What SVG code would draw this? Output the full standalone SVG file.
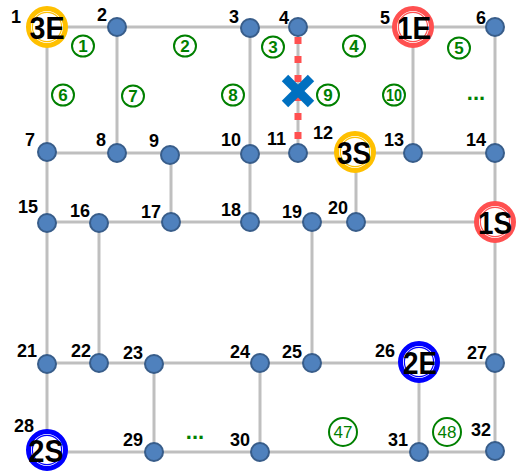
<svg xmlns="http://www.w3.org/2000/svg" width="518" height="471" viewBox="0 0 518 471">
<style>
.e{stroke:#BFBFBF;stroke-width:3;fill:none}
.cut{stroke:#FF5050;stroke-width:7;stroke-dasharray:7 12;fill:none}
.x{stroke:#0070C0;stroke-width:9;fill:none}
.n{fill:#4F81BD;stroke:#385D8A;stroke-width:2}
.l{font-family:"Liberation Sans",Arial,sans-serif;font-weight:bold;font-size:18px;fill:#000;text-anchor:end}
.bo{fill:#fff;stroke-width:5}
.bi{fill:none;stroke-width:1.2}
.bt{font-family:"Liberation Sans",Arial,sans-serif;font-weight:bold;font-size:32px;fill:#000;text-anchor:middle}
.y{stroke:#FFC000}.r{stroke:#FF5050}.b{stroke:#0000FF}
.g{fill:none;stroke:#008000;stroke-width:2}
.gt{font-family:"Liberation Sans",Arial,sans-serif;font-weight:bold;font-size:17px;fill:#008000;text-anchor:middle}
.gt2{font-family:"Liberation Sans",Arial,sans-serif;font-size:17px;fill:#008000;text-anchor:middle}
.dots{font-family:"Liberation Sans",Arial,sans-serif;font-weight:bold;font-size:22px;fill:#008000;text-anchor:middle}
</style>
<g id="connectors">
<line class="e" x1="47" y1="27" x2="495" y2="27"/>
<line class="e" x1="47" y1="153" x2="495" y2="153"/>
<line class="e" x1="47" y1="222" x2="495" y2="222"/>
<line class="e" x1="47" y1="363" x2="495" y2="363"/>
<line class="e" x1="47" y1="452" x2="495" y2="452"/>
<line class="e" x1="47" y1="27" x2="47" y2="452"/>
<line class="e" x1="117" y1="27" x2="117" y2="153"/>
<line class="e" x1="250" y1="27" x2="250" y2="222"/>
<line class="e" x1="298" y1="27" x2="298" y2="153"/>
<line class="e" x1="413" y1="27" x2="413" y2="153"/>
<line class="e" x1="495" y1="27" x2="495" y2="452"/>
<line class="e" x1="171" y1="153" x2="171" y2="222"/>
<line class="e" x1="356" y1="153" x2="356" y2="222"/>
<line class="e" x1="99" y1="222" x2="99" y2="363"/>
<line class="e" x1="312" y1="222" x2="312" y2="363"/>
<line class="e" x1="154" y1="363" x2="154" y2="452"/>
<line class="e" x1="260" y1="363" x2="260" y2="452"/>
<line class="e" x1="419" y1="363" x2="419" y2="452"/>
<line class="cut" x1="298" y1="37" x2="298" y2="143"/>
<line class="x" x1="285" y1="78" x2="311" y2="104"/>
<line class="x" x1="311" y1="78" x2="285" y2="104"/>
</g>
<g id="regions">
<ellipse class="g" cx="83" cy="46" rx="11" ry="10.5"/><text class="gt" x="83" y="52">1</text>
<ellipse class="g" cx="185" cy="46" rx="11" ry="10.5"/><text class="gt" x="185" y="52">2</text>
<ellipse class="g" cx="273" cy="47" rx="11" ry="10.5"/><text class="gt" x="273" y="53">3</text>
<ellipse class="g" cx="354" cy="46" rx="11" ry="10.5"/><text class="gt" x="354" y="52">4</text>
<ellipse class="g" cx="459" cy="48" rx="11" ry="10.5"/><text class="gt" x="459" y="54">5</text>
<ellipse class="g" cx="63" cy="95" rx="11" ry="10.5"/><text class="gt" x="63" y="101">6</text>
<ellipse class="g" cx="133" cy="96" rx="11" ry="10.5"/><text class="gt" x="133" y="102">7</text>
<ellipse class="g" cx="233" cy="95" rx="11" ry="10.5"/><text class="gt" x="233" y="101">8</text>
<ellipse class="g" cx="328" cy="95" rx="11" ry="10.5"/><text class="gt" x="328" y="101">9</text>
<ellipse class="g" cx="394" cy="95" rx="11" ry="10.5"/><text class="gt" x="394" y="101" textLength="16" lengthAdjust="spacingAndGlyphs">10</text>
<text class="dots" x="476" y="100">...</text>
<text class="dots" x="195" y="439">...</text>
<circle class="g" cx="343" cy="432" r="14"/><text class="gt2" x="343" y="438">47</text>
<circle class="g" cx="447" cy="432" r="14"/><text class="gt2" x="447" y="438">48</text>
</g>
<g id="n1"><circle class="bo y" cx="47" cy="27" r="18.5"/><circle class="bi y" cx="47" cy="27" r="14.6"/><text class="l" x="21" y="23">1</text><text class="bt" x="47" y="39" textLength="35" lengthAdjust="spacingAndGlyphs">3E</text></g>
<g id="n2"><circle class="n" cx="117" cy="27" r="9"/><text class="l" x="107" y="21">2</text></g>
<g id="n3"><circle class="n" cx="250" cy="28" r="9"/><text class="l" x="239" y="23">3</text></g>
<g id="n4"><circle class="n" cx="298" cy="27" r="9"/><text class="l" x="289" y="24">4</text></g>
<g id="n5"><circle class="bo r" cx="413" cy="27" r="18.5"/><circle class="bi r" cx="413" cy="27" r="14.6"/><text class="l" x="390" y="24">5</text><text class="bt" x="414" y="39" textLength="34" lengthAdjust="spacingAndGlyphs">1E</text></g>
<g id="n6"><circle class="n" cx="495" cy="27" r="9"/><text class="l" x="486" y="24">6</text></g>
<g id="n7"><circle class="n" cx="47" cy="152" r="9"/><text class="l" x="35" y="146">7</text></g>
<g id="n8"><circle class="n" cx="117" cy="153" r="9"/><text class="l" x="106" y="146">8</text></g>
<g id="n9"><circle class="n" cx="170" cy="155" r="9"/><text class="l" x="159" y="147">9</text></g>
<g id="n10"><circle class="n" cx="250" cy="154" r="9"/><text class="l" x="241" y="146">10</text></g>
<g id="n11"><circle class="n" cx="298" cy="153" r="9"/><text class="l" x="286" y="145">11</text></g>
<g id="n12"><circle class="bo y" cx="355" cy="152" r="18.5"/><circle class="bi y" cx="355" cy="152" r="14.6"/><text class="l" x="333" y="139">12</text><text class="bt" x="354" y="164" textLength="34" lengthAdjust="spacingAndGlyphs">3S</text></g>
<g id="n13"><circle class="n" cx="413" cy="153" r="9"/><text class="l" x="404" y="146">13</text></g>
<g id="n14"><circle class="n" cx="495" cy="153" r="9"/><text class="l" x="486" y="146">14</text></g>
<g id="n15"><circle class="n" cx="47" cy="223" r="9"/><text class="l" x="38" y="213">15</text></g>
<g id="n16"><circle class="n" cx="99" cy="223" r="9"/><text class="l" x="90" y="217">16</text></g>
<g id="n17"><circle class="n" cx="171" cy="222" r="9"/><text class="l" x="161" y="218">17</text></g>
<g id="n18"><circle class="n" cx="250" cy="222" r="9"/><text class="l" x="241" y="216">18</text></g>
<g id="n19"><circle class="n" cx="312" cy="222" r="9"/><text class="l" x="302" y="218">19</text></g>
<g id="n20"><circle class="n" cx="356" cy="222" r="9"/><text class="l" x="348" y="214">20</text></g>
<g id="n1S"><circle class="bo r" cx="495" cy="222" r="18.5"/><circle class="bi r" cx="495" cy="222" r="14.6"/><text class="bt" x="495" y="234" textLength="34" lengthAdjust="spacingAndGlyphs">1S</text></g>
<g id="n21"><circle class="n" cx="47" cy="364" r="9"/><text class="l" x="37" y="357">21</text></g>
<g id="n22"><circle class="n" cx="99" cy="363" r="9"/><text class="l" x="91" y="357">22</text></g>
<g id="n23"><circle class="n" cx="154" cy="364" r="9"/><text class="l" x="143" y="359">23</text></g>
<g id="n24"><circle class="n" cx="260" cy="363" r="9"/><text class="l" x="250" y="358">24</text></g>
<g id="n25"><circle class="n" cx="312" cy="363" r="9"/><text class="l" x="302" y="358">25</text></g>
<g id="n26"><circle class="bo b" cx="419" cy="362" r="18.5"/><circle class="bi b" cx="419" cy="362" r="14.6"/><text class="l" x="395" y="357">26</text><text class="bt" x="420" y="374" textLength="34" lengthAdjust="spacingAndGlyphs">2E</text></g>
<g id="n27"><circle class="n" cx="495" cy="363" r="9"/><text class="l" x="487" y="359">27</text></g>
<g id="n28"><circle class="bo b" cx="47" cy="450" r="18.5"/><circle class="bi b" cx="47" cy="450" r="14.6"/><text class="l" x="34" y="432">28</text><text class="bt" x="46" y="462" textLength="35" lengthAdjust="spacingAndGlyphs">2S</text></g>
<g id="n29"><circle class="n" cx="154" cy="452" r="9"/><text class="l" x="143" y="446">29</text></g>
<g id="n30"><circle class="n" cx="260" cy="452" r="9"/><text class="l" x="250" y="446">30</text></g>
<g id="n31"><circle class="n" cx="419" cy="452" r="9"/><text class="l" x="408" y="446">31</text></g>
<g id="n32"><circle class="n" cx="495" cy="451" r="9"/><text class="l" x="491" y="436">32</text></g>
</svg>
